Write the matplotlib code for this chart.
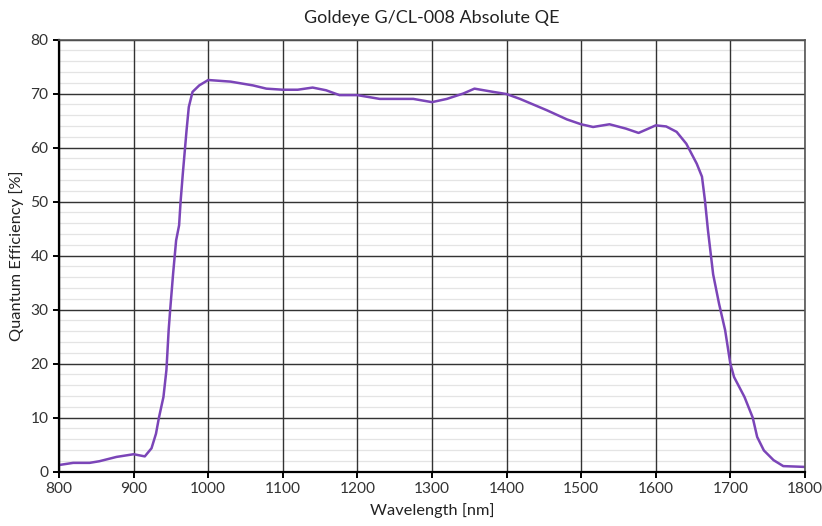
import matplotlib.pyplot as plt
from matplotlib.ticker import MultipleLocator

# wavelength [nm] and absolute QE [%]
wavelength = [800, 819, 841, 854, 877, 900, 915, 924, 930, 934, 940, 944,
              947, 949, 953, 957, 961, 963, 966, 971, 974, 979, 988, 1000,
              1030, 1060, 1078, 1100, 1120, 1140, 1158, 1176, 1200, 1230,
              1275, 1300, 1320, 1342, 1357, 1382, 1400, 1418, 1454, 1481,
              1500, 1516, 1538, 1560, 1577, 1587, 1600, 1614, 1628, 1641,
              1655, 1662, 1666, 1670, 1677, 1685, 1693, 1700, 1705, 1719,
              1730, 1736, 1745, 1758, 1771, 1800]
qe = [1.2, 1.6, 1.6, 1.9, 2.7, 3.2, 2.8, 4.3, 7.0, 10.0, 13.8, 18.8,
      26.2, 29.9, 36.7, 42.8, 45.6, 50.0, 55.2, 63.2, 67.5, 70.3, 71.5, 72.5,
      72.2, 71.5, 70.9, 70.7, 70.7, 71.1, 70.6, 69.7, 69.7, 69.0,
      69.0, 68.4, 69.0, 70.0, 70.9, 70.3, 69.9, 69.0, 66.9, 65.2,
      64.3, 63.8, 64.3, 63.5, 62.7, 63.3, 64.1, 63.9, 62.9, 60.7,
      57.0, 54.6, 50.2, 44.7, 36.5, 31.0, 26.2, 20.0, 17.5, 13.8,
      10.0, 6.4, 3.9, 2.1, 1.0, 0.85]

plt.rcParams['font.family'] = ['Lato', 'DejaVu Sans']

fig = plt.figure(figsize=(8.22, 5.26), dpi=100)
rect = [0.0718, 0.1036, 0.9074, 0.8213]

# light minor grid lives on a background axes so it stays under the major grid
bg = fig.add_axes(rect)
bg.set_xlim(800, 1800)
bg.set_ylim(0, 80)
bg.yaxis.set_minor_locator(MultipleLocator(2))
bg.grid(which='minor', axis='y', color='#e4e4e4', linewidth=0.9)
bg.set_xticks([])
bg.set_yticks([])
bg.tick_params(which='minor', length=0, labelleft=False)
for s in bg.spines.values():
    s.set_visible(False)

ax = fig.add_axes(rect)
ax.patch.set_alpha(0)
ax.plot(wavelength, qe, color='#7b45b8', linewidth=1.8)

ax.set_xlim(800, 1800)
ax.set_ylim(0, 80)
ax.xaxis.set_major_locator(MultipleLocator(100))
ax.yaxis.set_major_locator(MultipleLocator(10))

ax.grid(which='major', color='#333333', linewidth=1.0)
ax.set_axisbelow(True)

for side in ('left', 'bottom'):
    ax.spines[side].set_linewidth(1.6)
    ax.spines[side].set_color('black')
for side in ('top', 'right'):
    ax.spines[side].set_linewidth(1.2)
    ax.spines[side].set_color('#555555')

ax.tick_params(which='major', direction='out', length=4, width=1.4,
               labelsize=11.2, labelcolor='#333333', color='black')

ax.set_title('Goldeye G/CL-008 Absolute QE', fontsize=13, color='#222222', pad=12)
ax.set_xlabel('Wavelength [nm]', fontsize=11.8, color='#222222', labelpad=5)
ax.set_ylabel('Quantum Efficiency [%]', fontsize=11.8, color='#222222', labelpad=5)

fig.savefig('out.png', dpi=100)
